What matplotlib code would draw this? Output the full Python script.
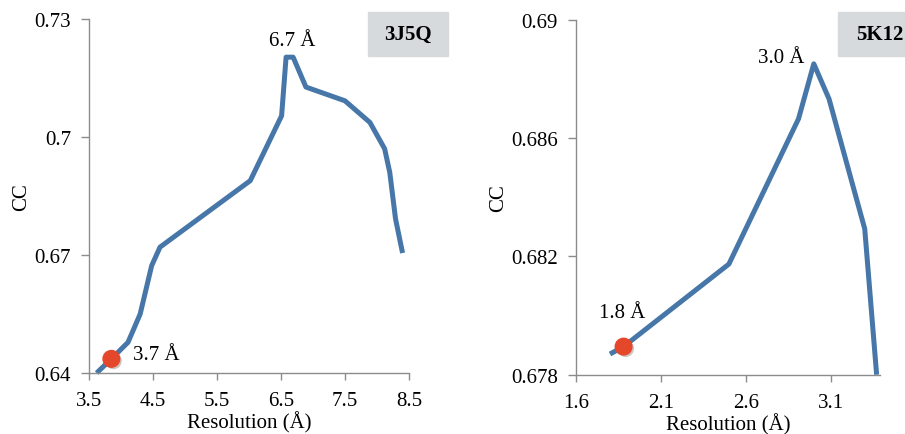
import matplotlib
matplotlib.use("Agg")
import matplotlib.pyplot as plt
import matplotlib.patheffects as pe

plt.rcParams['font.family'] = ['Liberation Serif', 'DejaVu Serif']
plt.rcParams['font.size'] = 15

# 3J5Q: CC vs resolution
res_3j5q = [3.62, 3.85, 4.11, 4.30, 4.48, 4.61, 6.02, 6.51, 6.58, 6.69, 6.89, 7.50, 7.89, 8.12, 8.20, 8.29, 8.40]
cc_3j5q = [0.6400, 0.6436, 0.6478, 0.6550, 0.6673, 0.6720, 0.6889, 0.7054, 0.7203, 0.7203, 0.7127, 0.7092, 0.7037, 0.6970, 0.6910, 0.6792, 0.6705]
dot_3j5q = (3.85, 0.6436)

# 5K12: CC vs resolution
res_5k12 = [1.80, 1.88, 2.50, 2.91, 3.00, 3.09, 3.30, 3.37]
cc_5k12 = [0.67870, 0.67895, 0.68174, 0.68665, 0.68851, 0.68732, 0.68293, 0.67800]
dot_5k12 = (1.88, 0.67895)

line_color = '#4677a8'
dot_color = '#e5472b'
spine_color = '#8c8c8c'

fig = plt.figure(figsize=(9.05, 4.35), dpi=100)
ax1 = fig.add_axes([0.0983, 0.1402, 0.3536, 0.8138])
ax2 = fig.add_axes([0.6365, 0.1363, 0.3359, 0.8160])


def style(ax):
    for s in ['top', 'right']:
        ax.spines[s].set_visible(False)
    for s in ['left', 'bottom']:
        ax.spines[s].set_color(spine_color)
        ax.spines[s].set_linewidth(1.0)
    ax.tick_params(direction='out', color=spine_color, width=1, labelsize=15)
    ax.tick_params(axis='y', length=6, pad=7)
    ax.tick_params(axis='x', length=5, pad=8)
    ax.set_xlabel('Resolution (Å)', labelpad=1)
    ax.set_ylabel('CC', labelpad=2)


shadow = [pe.SimplePatchShadow(offset=(1.5, -1.5), alpha=0.25), pe.Normal()]

# left panel
ax1.plot(res_3j5q, cc_3j5q, color=line_color, lw=3.6, solid_capstyle='butt', clip_on=False)
ax1.plot(*dot_3j5q, 'o', color=dot_color, ms=12, zorder=5, clip_on=False, path_effects=shadow)
ax1.set_xlim(3.5, 8.5)
ax1.set_ylim(0.64, 0.73)
ax1.set_xticks([3.5, 4.5, 5.5, 6.5, 7.5, 8.5])
ax1.set_xticklabels(['3.5', '4.5', '5.5', '6.5', '7.5', '8.5'])
ax1.set_yticks([0.64, 0.67, 0.70, 0.73])
ax1.set_yticklabels(['0.64', '0.67', '0.7', '0.73'])
style(ax1)
ax1.text(4.19, 0.6448, '3.7 Å', ha='left', va='center')
ax1.text(6.68, 0.7245, '6.7 Å', ha='center', va='center')

# right panel
ax2.plot(res_5k12, cc_5k12, color=line_color, lw=3.6, solid_capstyle='butt', clip_on=False)
ax2.plot(*dot_5k12, 'o', color=dot_color, ms=12, zorder=5, clip_on=False, path_effects=shadow)
ax2.set_xlim(1.6, 3.39)
ax2.set_ylim(0.678, 0.69)
ax2.set_xticks([1.6, 2.1, 2.6, 3.1])
ax2.set_xticklabels(['1.6', '2.1', '2.6', '3.1'])
ax2.set_yticks([0.678, 0.682, 0.686, 0.690])
ax2.set_yticklabels(['0.678', '0.682', '0.686', '0.69'])
style(ax2)
ax2.text(1.869, 0.6801, '1.8 Å', ha='center', va='center')
ax2.text(2.947, 0.68873, '3.0 Å', ha='right', va='center')

# name boxes
box_gray = '#d7dadd'
fig.patches.append(plt.Rectangle((367.7 / 905, 1 - 57.3 / 435), 80 / 905, 44.6 / 435,
                                 transform=fig.transFigure, color=box_gray, zorder=0))
fig.text(407.7 / 905, 1 - 35 / 435, '3J5Q', ha='center', va='center', fontweight='bold')
fig.patches.append(plt.Rectangle((838 / 905, 1 - 56.7 / 435), 80 / 905, 44 / 435,
                                 transform=fig.transFigure, color=box_gray, zorder=0))
fig.text(856 / 905, 1 - 35 / 435, '5K12', ha='left', va='center', fontweight='bold')

fig.savefig('out.png', dpi=100)
